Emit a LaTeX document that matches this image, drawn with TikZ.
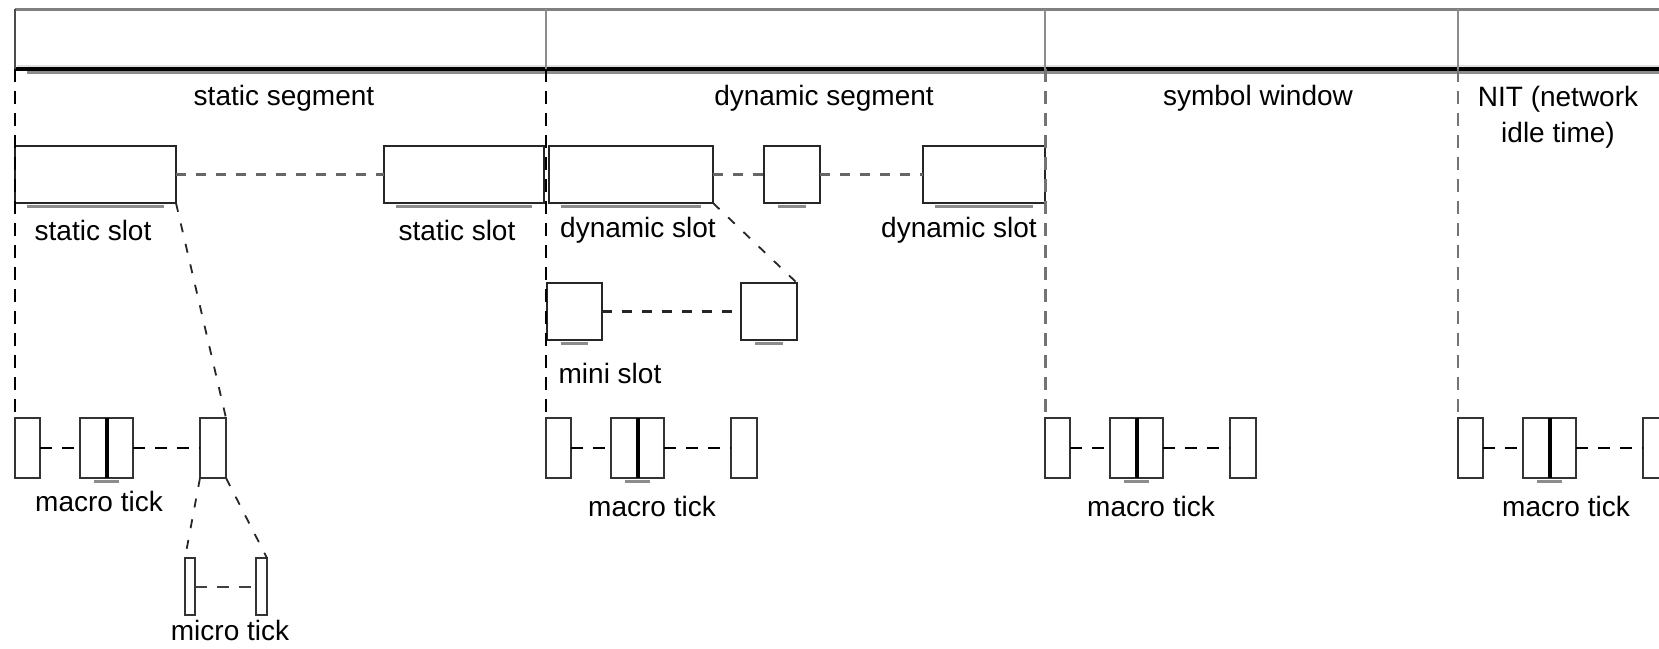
\documentclass[tikz,border=0pt]{standalone}
\usepackage{fontspec}
\setmainfont{Liberation Sans}
\usetikzlibrary{fit}
\begin{document}
\begin{tikzpicture}[x=0.5pt,y=-0.5pt,
  slotbox/.style={draw=black!85,line width=1.1pt,fill=white,inner sep=0pt,outer sep=0pt},
  tickbox/.style={draw=black!80,line width=1.3pt,fill=white,inner sep=0pt,outer sep=0pt},
  link/.style={draw=black!60,line width=1.3pt,dash pattern=on 5pt off 5pt},
  ticklink/.style={draw=black,line width=1pt,dash pattern=on 6pt off 5pt},
  guide/.style={line width=1.1pt,dash pattern=on 6.5pt off 4.5pt},
  zoomline/.style={draw=black!85,line width=0.9pt,dash pattern=on 4.5pt off 6pt},
  undershade/.style={draw=black!45,line width=1.5pt},
  lbl/.style={font=\fontsize{14}{16}\selectfont,inner sep=0pt,text=black},
]
\clip (0,0) rectangle (1659,648);
\fill[white] (0,0) rectangle (1659,648);

% ---- frame bar with its segment boundaries
\coordinate (b0) at (15,69);
\coordinate (b1) at (546,69);
\coordinate (b2) at (1045,69);
\coordinate (b3) at (1458,69);
\draw[black!50,line width=1.5pt] (15,9) -- (1680,9);
\draw[black!12,line width=1pt] (17,65.5) -- (1680,65.5);
\draw[black!45,line width=1.2pt] (27,72.5) -- (1680,72.5);
\draw[black,line width=2pt] (14,69) -- (1680,69);
\draw[black!70,line width=1.1pt] (15,9) -- (b0);
\foreach \c in {b1,b2,b3} \draw[black!45,line width=1.1pt] (\c |- 0,9) -- (\c);

% ---- segment labels
\node[lbl] (lstat) at (284,98) {static segment};
\node[lbl] (ldyn)  at (824,98) {dynamic segment};
\node[lbl] (lsym)  at (1258,98) {symbol window};
\node[lbl,align=center] (lnit) at (1558,117) {NIT (network\\[2pt]idle time)};

% ---- static slots
\node[slotbox,fit={(15,146) (176,203)}] (ss1) {};
\node[slotbox,fit={(384,146) (544,203)}] (ss2) {};
\node[lbl] at (93,230) {static slot};
\node[lbl] at (457,230) {static slot};

% ---- dynamic slots
\node[slotbox,fit={(549,146) (713,203)}] (ds1) {};
\node[slotbox,fit={(764,146) (820,203)}] (ds2) {};
\node[slotbox,fit={(923,146) (1045,203)}] (ds3) {};
\node[lbl] at (638,230) {dynamic slot};
\node[lbl] at (959,230) {dynamic slot};

% ---- mini slots
\node[slotbox,fit={(547,283) (602,340)}] (ms1) {};
\node[slotbox,fit={(741,283) (797,340)}] (ms2) {};
\node[lbl] at (610,373) {mini slot};

% ---- soft shading below the slots
\foreach \n/\s in {ss1/6,ss2/6,ds1/6,ds3/6,ds2/7,ms1/7,ms2/7}
  \draw[undershade,shorten <=\s pt,shorten >=\s pt]
    ([yshift=-1.9pt]\n.south west) -- ([yshift=-1.9pt]\n.south east);

% ---- macro ticks, one group per segment
\foreach \g/\d in {1/15,2/546,3/1045,4/1458}{
  \node[tickbox,fit={(\d,418) (\d+25,478)}] (tA\g) {};
  \node[tickbox,fit={(\d+65,418) (\d+91.5,478)}] (tDa\g) {};
  \node[tickbox,fit={(\d+91.5,418) (\d+118,478)}] (tDb\g) {};
  \node[tickbox,fit={(\d+185,418) (\d+211,478)}] (tC\g) {};
  \draw[black,line width=2pt] (tDa\g.north east) -- (tDa\g.south east);
  \draw[undershade,shorten <=7pt,shorten >=7pt]
    ([yshift=-1.6pt]tDa\g.south west) -- ([yshift=-1.6pt]tDb\g.south east);
  \draw[ticklink] (tA\g.east) -- (tDa\g.west);
  \draw[ticklink] (tDb\g.east) -- (tC\g.west);
}
\node[lbl] at (99,501) {macro tick};
\node[lbl] at (652,506) {macro tick};
\node[lbl] at (1151,506) {macro tick};
\node[lbl] at (1566,506) {macro tick};

% ---- micro ticks
\node[tickbox,fit={(185,558) (195,615)}] (mu1) {};
\node[tickbox,fit={(256,558) (267,615)}] (mu2) {};
\draw[ticklink,draw=black!75] (mu1.east) -- (mu2.west);
\node[lbl] at (230,630) {micro tick};

% ---- dashed links between slots
\draw[link] (ss1.east) -- (ss2.west);
\draw[link] (ds1.east) -- (ds2.west);
\draw[link] (ds2.east) -- (ds3.west);
\draw[link,draw=black!85] (ms1.east) -- (ms2.west);

% ---- segment boundaries down to the tick rows
\draw[guide,black] (b0) -- (tA1.north west);
\draw[guide,black] (b1) -- (tA2.north west);
\draw[guide,black!55,line width=1.5pt] (b2) -- (tA3.north west);
\draw[guide,black!55] (b3) -- (tA4.north west);

% ---- zoom-in lines
\draw[zoomline] (ss1.south east) -- (tC1.north east);
\draw[zoomline] (ds1.south east) -- (ms2.north east);
\draw[zoomline] (tC1.south west) -- (mu1.north west);
\draw[zoomline] (tC1.south east) -- (mu2.north east);
\end{tikzpicture}
\end{document}
